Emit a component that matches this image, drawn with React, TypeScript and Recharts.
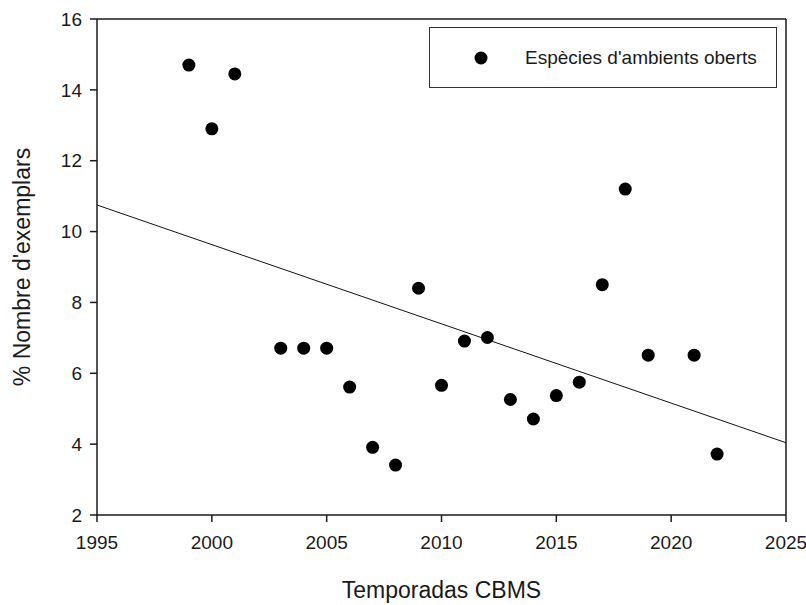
// Open-habitat species share per CBMS season, with linear trend.

import {
    ComposedChart, Scatter, Line, XAxis, YAxis, ReferenceLine, Legend,
} from "recharts";

const years = [1999, 2000, 2001, 2003, 2004, 2005, 2006, 2007, 2008, 2009, 2010, 2011, 2012, 2013, 2014, 2015, 2016, 2017, 2018, 2019, 2021, 2022];
const shares = [14.7, 12.9, 14.45, 6.71, 6.71, 6.71, 5.61, 3.91, 3.41, 8.4, 5.66, 6.91, 7.01, 5.26, 4.71, 5.37, 5.75, 8.5, 11.2, 6.51, 6.51, 3.72];

const trendYears = [1995, 2025];
const trendValues = [10.75, 4.04];

const xTicks = [1995, 2000, 2005, 2010, 2015, 2020, 2025];
const yTicks = [2, 4, 6, 8, 10, 12, 14, 16];

const seriesName = "Espècies d'ambients oberts";

const points = years.map((x, i) => ({ x, y: shares[i] }));
const trend = trendYears.map((x, i) => ({ x, y: trendValues[i] }));

const FONT = "'Liberation Sans', Arial, sans-serif";
const INK = "#1a1a1a";

const Dot = (p: any) => <circle cx={p.cx} cy={p.cy} r={6.5} fill="#000" />;

function LegendBox() {
    return (
        <div style={{
            boxSizing: "border-box", width: 348, height: 61, border: "1.5px solid #333",
            background: "#fff", display: "flex", alignItems: "center", fontFamily: FONT,
        }}>
            <svg width={100} height={20} style={{ flex: "none" }}>
                <circle cx={51} cy={10} r={6.5} fill="#000" />
            </svg>
            <span style={{ fontSize: 19, color: INK, marginLeft: -5 }}>{seriesName}</span>
        </div>
    );
}

export default function App() {
    return (
        <div style={{ position: "absolute", left: 0, top: 0, width: 806, height: 605, background: "#fff" }}>
            <ComposedChart width={806} height={605} margin={{ top: 19, right: 20, left: 0, bottom: 0 }}>
                <XAxis
                    type="number"
                    dataKey="x"
                    domain={[1995, 2025]}
                    ticks={xTicks}
                    height={90}
                    tickSize={7}
                    tickMargin={14}
                    tick={{ fontSize: 19, fill: INK, fontFamily: FONT }}
                    axisLine={{ stroke: INK, strokeWidth: 1.5 }}
                    tickLine={{ stroke: INK, strokeWidth: 1.5 }}
                    label={{ value: "Temporadas CBMS", position: "insideBottom", offset: 7, fontSize: 23, fill: INK, fontFamily: FONT }}
                />
                <YAxis
                    type="number"
                    dataKey="y"
                    domain={[2, 16]}
                    ticks={yTicks}
                    width={97}
                    tickSize={7}
                    tickMargin={8}
                    tick={{ fontSize: 19, fill: INK, fontFamily: FONT }}
                    axisLine={{ stroke: INK, strokeWidth: 1.5 }}
                    tickLine={{ stroke: INK, strokeWidth: 1.5 }}
                    label={{ value: "% Nombre d'exemplars", angle: -90, position: "insideLeft", offset: 22, fontSize: 23, fill: INK, fontFamily: FONT, style: { textAnchor: "middle" } }}
                />
                <ReferenceLine y={16} stroke={INK} strokeWidth={1.5} />
                <ReferenceLine x={2025} stroke={INK} strokeWidth={1.5} />
                <Line data={trend} dataKey="y" stroke="#111" strokeWidth={1} dot={false} activeDot={false} isAnimationActive={false} legendType="none" />
                <Scatter name={seriesName} data={points} dataKey="y" shape={Dot} isAnimationActive={false} />
                <Legend
                    layout="horizontal"
                    verticalAlign="middle"
                    align="center"
                    content={() => <LegendBox />}
                    wrapperStyle={{ position: "absolute", left: 429, top: 27, width: 348, height: 61 }}
                />
            </ComposedChart>
        </div>
    );
}
